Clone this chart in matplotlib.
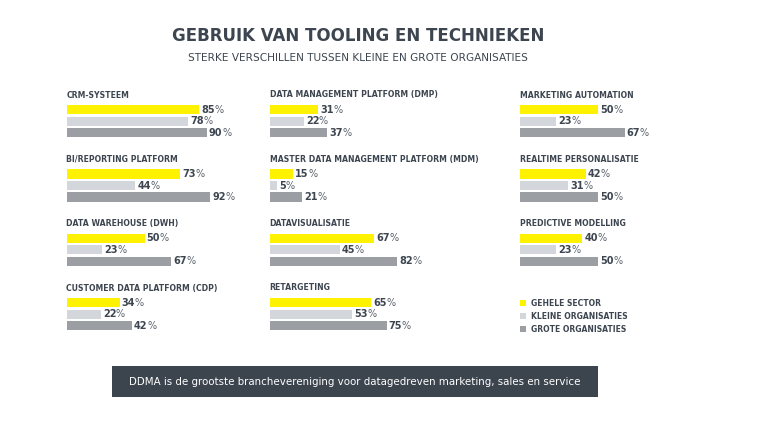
import matplotlib.pyplot as plt
from matplotlib.patches import Patch, Rectangle

W, H = 760, 428

TITLE = 'GEBRUIK VAN TOOLING EN TECHNIEKEN'
SUBTITLE = 'STERKE VERSCHILLEN TUSSEN KLEINE EN GROTE ORGANISATIES'
FOOTER = 'DDMA is de grootste branchevereniging voor datagedreven marketing, sales en service'

SERIES = ['GEHELE SECTOR', 'KLEINE ORGANISATIES', 'GROTE ORGANISATIES']
COLORS = ['#FFF200', '#D3D7DC', '#9B9EA2']
TEXT = '#3D4650'

# column 1
col1_names = ['CRM-SYSTEEM', 'BI/REPORTING PLATFORM', 'DATA WAREHOUSE (DWH)',
              'CUSTOMER DATA PLATFORM (CDP)']
col1_values = [[85, 78, 90], [73, 44, 92], [50, 23, 67], [34, 22, 42]]

# column 2
col2_names = ['DATA MANAGEMENT PLATFORM (DMP)', 'MASTER DATA MANAGEMENT PLATFORM (MDM)',
              'DATAVISUALISATIE', 'RETARGETING']
col2_values = [[31, 22, 37], [15, 5, 21], [67, 45, 82], [65, 53, 75]]

# column 3
col3_names = ['MARKETING AUTOMATION', 'REALTIME PERSONALISATIE', 'PREDICTIVE MODELLING']
col3_values = [[50, 23, 67], [42, 31, 50], [40, 23, 50]]

plt.rcParams['font.family'] = ['DejaVu Sans']

fig = plt.figure(figsize=(W / 100, H / 100), dpi=100)
fig.patch.set_facecolor('white')

fig.text(358 / W, 1 - 36 / H, TITLE, ha='center', va='center',
         fontsize=12, fontweight='bold', color=TEXT)
fig.text(358 / W, 1 - 58 / H, SUBTITLE, ha='center', va='center',
         fontsize=7.6, color=TEXT)

ROW_TOP = [104, 168.3, 232.6, 297]
PANEL_H = 34.5
PX_PER_100 = 156


def panel(x0, row, name, vals):
    top = ROW_TOP[row]
    ax = fig.add_axes([x0 / W, 1 - (top + PANEL_H) / H, PX_PER_100 / W, PANEL_H / H])
    ax.barh(range(3), vals, height=0.8, color=COLORS)
    ax.set_xlim(0, 100)
    ax.set_ylim(2.5, -0.5)
    ax.axis('off')
    ax.text(0, 1 + 9 / PANEL_H, name, transform=ax.transAxes, ha='left', va='center',
            fontsize=5.6, fontweight='bold', color=TEXT)
    for i, v in enumerate(vals):
        t = ax.annotate(str(v), xy=(v, i), xytext=(1.5, 0), textcoords='offset points',
                        ha='left', va='center', fontsize=7, fontweight='bold', color=TEXT)
        ax.annotate('%', xy=(1, 0), xycoords=t, xytext=(-0.3, 0),
                    textcoords='offset points', ha='left', va='bottom',
                    fontsize=7, color='#5A626B')


for r, (n, v) in enumerate(zip(col1_names, col1_values)):
    panel(66.5, r, n, v)
for r, (n, v) in enumerate(zip(col2_names, col2_values)):
    panel(269.5, r, n, v)
for r, (n, v) in enumerate(zip(col3_names, col3_values)):
    panel(520, r, n, v)

handles = [Patch(facecolor=c, edgecolor='none') for c in COLORS]
fig.legend(handles, SERIES, loc='upper left', bbox_to_anchor=(520 / W, 1 - 299 / H),
           frameon=False, handlelength=0.8, handleheight=0.8,
           handletextpad=0.7, labelspacing=0.5, borderaxespad=0, borderpad=0,
           prop={'weight': 'bold', 'size': 5.5}, labelcolor=TEXT)

fig.patches.append(Rectangle((112 / W, 1 - 397 / H), 486 / W, 31 / H,
                             transform=fig.transFigure, facecolor='#3C444E',
                             edgecolor='none'))
fig.text(355 / W, 1 - 382 / H, FOOTER, ha='center', va='center',
         fontsize=7.4, color='white')

fig.savefig('out.png', dpi=100)
